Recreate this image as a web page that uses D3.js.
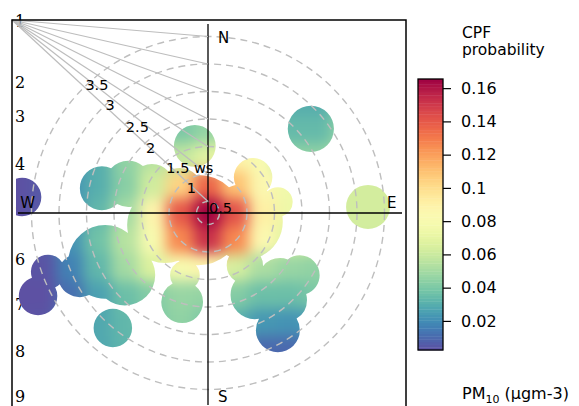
<!DOCTYPE html>
<html><head><meta charset="utf-8">
<script src="https://cdn.jsdelivr.net/npm/d3@7"></script>
<style>
body{margin:0;background:#fff}
svg{display:block}
text{font-family:"DejaVu Sans",sans-serif;fill:#000}
</style>
</head><body>
<svg id="chart" width="579" height="406"></svg>
<script>
// ---------- DATA ----------
// grid node positions (plot units, 1 unit = 1 ws step on the radial scale)
const gridU = [-3.5,-3,-2.5,-2,-1.5,-1,-0.5,0,0.5,1,1.5,2,2.5,3,3.5];
const gridV = [2,1.5,1,0.5,0,-0.5,-1,-1.5,-2,-2.5];
// CPF probability read at each node (rows follow gridV, columns follow gridU)
const cpfRow1  = [0.004,0.006,0.020,0.030,0.040,0.045,0.040,0.045,0.050,0.040,0.030,0.030,0.040,0.055,0.060];
const cpfRow2  = [0.004,0.006,0.020,0.030,0.040,0.045,0.040,0.046,0.060,0.045,0.034,0.034,0.045,0.060,0.062];
const cpfRow3  = [0.004,0.006,0.020,0.030,0.045,0.055,0.058,0.068,0.090,0.080,0.045,0.045,0.055,0.062,0.063];
const cpfRow4  = [0.003,0.005,0.022,0.030,0.043,0.062,0.104,0.136,0.110,0.085,0.075,0.068,0.063,0.063,0.063];
const cpfRow5  = [0.003,0.005,0.020,0.033,0.050,0.088,0.140,0.165,0.142,0.092,0.074,0.066,0.063,0.063,0.063];
const cpfRow6  = [0.003,0.006,0.022,0.037,0.055,0.080,0.126,0.152,0.126,0.084,0.068,0.063,0.062,0.062,0.062];
const cpfRow7  = [0.003,0.004,0.017,0.033,0.050,0.066,0.080,0.088,0.064,0.052,0.047,0.045,0.050,0.055,0.055];
const cpfRow8  = [0.003,0.003,0.012,0.026,0.036,0.042,0.047,0.046,0.042,0.036,0.036,0.040,0.045,0.050,0.050];
const cpfRow9  = [0.003,0.004,0.015,0.028,0.033,0.040,0.045,0.040,0.030,0.023,0.022,0.025,0.030,0.040,0.045];
const cpfRow10 = [0.003,0.005,0.015,0.028,0.032,0.035,0.040,0.035,0.020,0.010,0.010,0.015,0.020,0.030,0.040];
const cpfRows = [cpfRow1,cpfRow2,cpfRow3,cpfRow4,cpfRow5,cpfRow6,cpfRow7,cpfRow8,cpfRow9,cpfRow10];
// areas with data (circles in plot units)
const blobU = [-3.38,-1.93,-1.45,-1.02,-0.24,-0.18,0.67,0.82,1.27,-0.78,-0.51,-1.87,-1.51,-2.33,-2.91,-3.09,-1.73,-0.47,-0.42,1.31,1.67,0.85,1.40,1.27,0.67,1.87,2.91];
const blobV = [0.29,0.45,0.53,0.49,1.22,-0.13,-0.16,0.65,0.20,-0.22,0.42,-0.89,-1.13,-1.13,-1.07,-1.51,-2.09,-1.62,-1.13,-1.22,-1.13,-1.49,-1.58,-2.13,-0.95,1.53,0.11];
const blobR = [0.35,0.40,0.42,0.40,0.38,0.82,0.69,0.35,0.27,0.69,0.40,0.67,0.55,0.40,0.31,0.35,0.35,0.38,0.27,0.40,0.36,0.44,0.40,0.40,0.33,0.42,0.40];
const wsBreaks = [0.5,1,1.5,2,2.5,3,3.5];
const wsLabels = ["0.5","1","1.5 ws","2","2.5","3","3.5"];
const legendTicks = [0.02,0.04,0.06,0.08,0.1,0.12,0.14,0.16];
const compassLabels = ["N","E","S","W"];
const sideLabels = ["1","2","3","4","5","6","7","8","9"];

// ---------- LAYOUT ----------
const svg = d3.select("#chart");
const cx = 208, cy = 213, unit = 55;
const xS = d3.scaleLinear().domain([0,1]).range([cx, cx+unit]);
const yS = d3.scaleLinear().domain([0,1]).range([cy, cy-unit]);
const lenS = d3.scaleLinear().domain([0,1]).range([0, unit]);
const rS = d3.scaleLinear().domain([0.291,3.5]).range([0,176.5]);
const cMin = 0.0025, cMax = 0.1655;
const col = d3.scaleSequential(t => d3.interpolateSpectral(1-t)).domain([cMin,cMax]);

const defs = svg.append("defs");
const filt = defs.append("filter").attr("id","smooth")
  .attr("filterUnits","userSpaceOnUse").attr("x",0).attr("y",0).attr("width",579).attr("height",406)
  .attr("color-interpolation-filters","sRGB");
filt.append("feGaussianBlur").attr("stdDeviation",7);
const ct = filt.append("feComponentTransfer");
ct.append("feFuncA").attr("type","linear").attr("slope",0).attr("intercept",1);

const clip = defs.append("clipPath").attr("id","dataArea");
blobU.forEach((u,i)=>{
  clip.append("circle").attr("cx",xS(u)).attr("cy",yS(blobV[i])).attr("r",lenS(blobR[i]));
});
defs.append("clipPath").attr("id","panelClip")
  .append("rect").attr("x",16).attr("y",22).attr("width",388).attr("height",384);

// side labels (drawn beneath the surface)
const sideY = [26.7,88,122,170,210,265,310,357,402];
svg.append("g").selectAll("text").data(sideLabels).join("text")
  .attr("x",15).attr("y",(d,i)=>sideY[i])
  .style("font-family","'DejaVu Serif',serif").style("font-size","16px")
  .text(d=>d);

// surface
const half = lenS(0.25);
const cells = [];
cpfRows.forEach((row,j)=>row.forEach((v,i)=>cells.push({u:gridU[i], v:gridV[j], val:v})));
svg.append("g").attr("clip-path","url(#panelClip)")
  .append("g").attr("clip-path","url(#dataArea)")
  .append("g").attr("filter","url(#smooth)")
  .selectAll("rect").data(cells).join("rect")
  .attr("x",d=>xS(d.u)-half-0.5).attr("y",d=>yS(d.v)-half-0.5)
  .attr("width",2*half+1).attr("height",2*half+1)
  .attr("fill",d=>col(d.val));

// dashed ws circles
svg.append("g").selectAll("circle").data(wsBreaks).join("circle")
  .attr("cx",cx).attr("cy",cy).attr("r",d=>rS(d))
  .attr("fill","none").attr("stroke","#bebebe").attr("stroke-width",1.4)
  .attr("stroke-dasharray","7,5");

// axes cross
svg.append("line").attr("x1",cx).attr("x2",cx).attr("y1",24).attr("y2",405)
  .attr("stroke","#000").attr("stroke-width",1.3);
svg.append("line").attr("x1",18).attr("x2",402).attr("y1",cy).attr("y2",cy)
  .attr("stroke","#000").attr("stroke-width",1.3);

// fan lines from panel corner to the top of each ws circle
const ox = 12, oy = 20;
svg.append("g").selectAll("line").data(wsBreaks).join("line")
  .attr("x1",ox).attr("y1",oy).attr("x2",cx).attr("y2",d=>cy-rS(d))
  .attr("stroke","#bdbdbd").attr("stroke-width",1.2);

// ws labels at intersection of innermost fan line with each circle
const px1 = cx, py1 = cy - rS(wsBreaks[0]);
function intersect(r){
  const dx = ox-px1, dy = oy-py1;
  const fx = px1-cx, fy = py1-cy;
  const a = dx*dx+dy*dy, b = 2*(fx*dx+fy*dy), c = fx*fx+fy*fy-r*r;
  const s = Math.max(0,(-b+Math.sqrt(Math.max(0,b*b-4*a*c)))/(2*a));
  return [px1+s*dx, py1+s*dy];
}
const labDy = [11.5,12.5,11,10,7.5,4,3];
svg.append("g").selectAll("text").data(wsBreaks).join("text")
  .attr("x",(d)=>intersect(rS(d))[0]+1)
  .attr("y",(d,i)=>intersect(rS(d))[1]+labDy[i])
  .style("font-size","14.5px")
  .text((d,i)=>wsLabels[i]);

// compass labels
const R = rS(3.5);
const compassPos = {N:[cx+10, cy-R+6.5,"start"], E:[cx+R+2.5, cy-5,"start"], S:[cx+10, cy+R+12.5,"start"], W:[cx-R+3.5, cy-5,"end"]};
svg.append("g").selectAll("text").data(compassLabels).join("text")
  .attr("x",d=>compassPos[d][0]).attr("y",d=>compassPos[d][1])
  .attr("text-anchor",d=>compassPos[d][2])
  .style("font-size","15px").text(d=>d);

// panel border
svg.append("rect").attr("x",12).attr("y",20).attr("width",394).attr("height",400)
  .attr("fill","none").attr("stroke","#000").attr("stroke-width",1.5);

// ---------- LEGEND ----------
const lx = 418, lw = 25, ly0 = 79, ly1 = 350;
const ly = d3.scaleLinear().domain([cMin,cMax]).range([ly1,ly0]);
const nBands = 100;
const bands = d3.range(nBands).map(k => cMin + (k+0.5)*(cMax-cMin)/nBands);
svg.append("g").selectAll("rect").data(bands).join("rect")
  .attr("x",lx).attr("width",lw)
  .attr("y",d=>ly(d + (cMax-cMin)/nBands/2))
  .attr("height",(ly1-ly0)/nBands+0.4)
  .attr("fill",d=>col(d));
svg.append("rect").attr("x",lx).attr("y",ly0).attr("width",lw).attr("height",ly1-ly0)
  .attr("fill","none").attr("stroke","#000").attr("stroke-width",1.3);
const axis = d3.axisRight(ly).tickValues(legendTicks).tickSize(8).tickPadding(10)
  .tickFormat(d=>String(+d.toFixed(2)));
const ag = svg.append("g").attr("transform",`translate(${lx+lw},0)`).call(axis);
ag.select(".domain").remove();
ag.selectAll(".tick line").attr("stroke","#000").attr("stroke-width",1.2);
ag.selectAll(".tick text").style("font-family","'DejaVu Sans',sans-serif").style("font-size","16px").attr("fill","#000");

svg.append("text").attr("x",462).attr("y",37.5).style("font-size","15.5px").text("CPF");
svg.append("text").attr("x",462).attr("y",55).style("font-size","15.5px").text("probability");
const pm = svg.append("text").attr("x",462).attr("y",399).style("font-size","16px");
pm.append("tspan").text("PM");
pm.append("tspan").attr("dy",4).style("font-size","11px").text("10");
pm.append("tspan").attr("dy",-4).text(" (µgm-3)");
</script>
</body></html>
